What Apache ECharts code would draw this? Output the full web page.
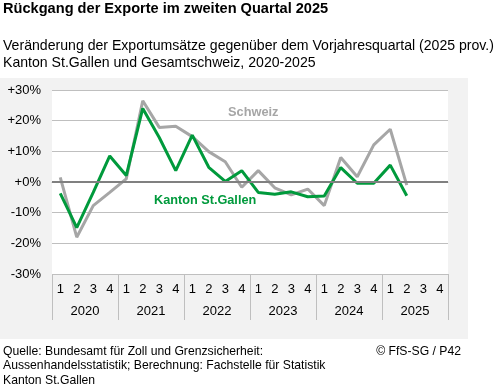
<!DOCTYPE html>
<html><head><meta charset="utf-8">
<script src="https://cdn.jsdelivr.net/npm/echarts@6/dist/echarts.min.js"></script>
<style>html,body{margin:0;padding:0;background:#fff}#c{width:502px;height:386px}</style>
</head><body><div id="c"></div>
<script>
const years = ['2020','2021','2022','2023','2024','2025'];
const quarterLabels = ['1','2','3','4'];
const categories = [];
years.forEach(y => quarterLabels.forEach(q => categories.push(y + '-Q' + q)));
const stGallen = [-3.7, -14.9, -3.4, 8.5, 2.1, 24.0, 14.5, 3.7, 15.3, 4.8, 0.2, 3.7, -3.4, -4.0, -3.2, -4.8, -4.6, 4.7, -0.4, -0.4, 5.5, -4.5, null, null];
const schweiz = [1.5, -18.0, -7.7, -3.4, 1.0, 26.5, 17.8, 18.2, 14.8, 9.9, 6.6, -1.7, 3.7, -1.9, -4.2, -2.3, -7.7, 8.0, 1.7, 12.1, 17.2, -1.0, null, null];
const yTicks = [-30, -20, -10, 0, 10, 20, 30];

const FONT = '"Liberation Sans", Arial, sans-serif';
const GREEN = '#009a3c';
const GRAY = '#a6a6a6';

const chart = echarts.init(document.getElementById('c'), null, {renderer: 'canvas'});
chart.setOption({
  backgroundColor: '#ffffff',
  animation: false,
  textStyle: {fontFamily: FONT},
  title: [
    {text: 'Rückgang der Exporte im zweiten Quartal 2025', left: 3, top: 1, padding: 0,
     textStyle: {fontFamily: FONT, fontSize: 14.6, fontWeight: 'bold', color: '#000'}},
    {text: 'Veränderung der Exportumsätze gegenüber dem Vorjahresquartal (2025 prov.)\nKanton St.Gallen und Gesamtschweiz, 2020-2025', left: 3, top: 38, padding: 0,
     textStyle: {fontFamily: FONT, fontSize: 14.1, fontWeight: 'normal', color: '#000', lineHeight: 16.5}},
    {text: 'Quelle: Bundesamt für Zoll und Grenzsicherheit:\nAussenhandelsstatistik; Berechnung: Fachstelle für Statistik\nKanton St.Gallen', left: 3, top: 344, padding: 0,
     textStyle: {fontFamily: FONT, fontSize: 12.2, fontWeight: 'normal', color: '#000', lineHeight: 14.6}},
    {text: '© FfS-SG / P42', right: 41, top: 344, padding: 0,
     textStyle: {fontFamily: FONT, fontSize: 12.2, fontWeight: 'normal', color: '#000', lineHeight: 14.6}}
  ],
  graphic: [
    {type: 'rect', z: -10, shape: {x: 0, y: 78, width: 468, height: 261}, style: {fill: '#f2f2f2'}},
    {type: 'text', z: 100, left: 228, top: 106, style: {text: 'Schweiz', fill: GRAY, font: 'bold 12.8px "Liberation Sans", Arial, sans-serif'}},
    {type: 'text', z: 100, left: 154, top: 194, style: {text: 'Kanton St.Gallen', fill: GREEN, font: 'bold 12.7px "Liberation Sans", Arial, sans-serif'}}
  ],
  grid: {left: 52, right: 54, top: 90, bottom: 112, show: true, backgroundColor: '#ffffff', borderWidth: 0},
  xAxis: [
    {type: 'category', data: categories, boundaryGap: true, position: 'bottom',
     axisLine: {show: true, lineStyle: {color: '#bfbfbf', width: 1}},
     axisTick: {show: false},
     axisLabel: {interval: 0, margin: 9, fontSize: 13, color: '#000', fontFamily: FONT,
                 formatter: v => v.split('-Q')[1]}},
    {type: 'category', data: years, boundaryGap: true, position: 'bottom',
     axisLine: {show: false},
     axisTick: {show: true, length: 46, lineStyle: {color: '#bfbfbf', width: 1}},
     axisLabel: {interval: 0, margin: 31, fontSize: 13, color: '#000', fontFamily: FONT}}
  ],
  yAxis: {type: 'value', min: -30, max: 30, interval: 10,
    axisLine: {show: false}, axisTick: {show: false},
    splitLine: {show: true, lineStyle: {color: '#bfbfbf', width: 1}},
    axisLabel: {margin: 11, fontSize: 13, color: '#000', fontFamily: FONT,
      formatter: v => (v >= 0 ? '+' : '') + v + '%'}},
  series: [
    {name: 'zero', type: 'line', data: [], z: 1, silent: true,
     markLine: {silent: true, symbol: 'none', label: {show: false},
       lineStyle: {color: '#808080', width: 2, type: 'solid'}, data: [{yAxis: 0}]}},
    {name: 'Schweiz', type: 'line', data: schweiz, z: 3, symbol: 'none',
     lineStyle: {color: GRAY, width: 3}, itemStyle: {color: GRAY}},
    {name: 'Kanton St.Gallen', type: 'line', data: stGallen, z: 4, symbol: 'none',
     lineStyle: {color: GREEN, width: 3}, itemStyle: {color: GREEN}}
  ]
});
</script></body></html>
